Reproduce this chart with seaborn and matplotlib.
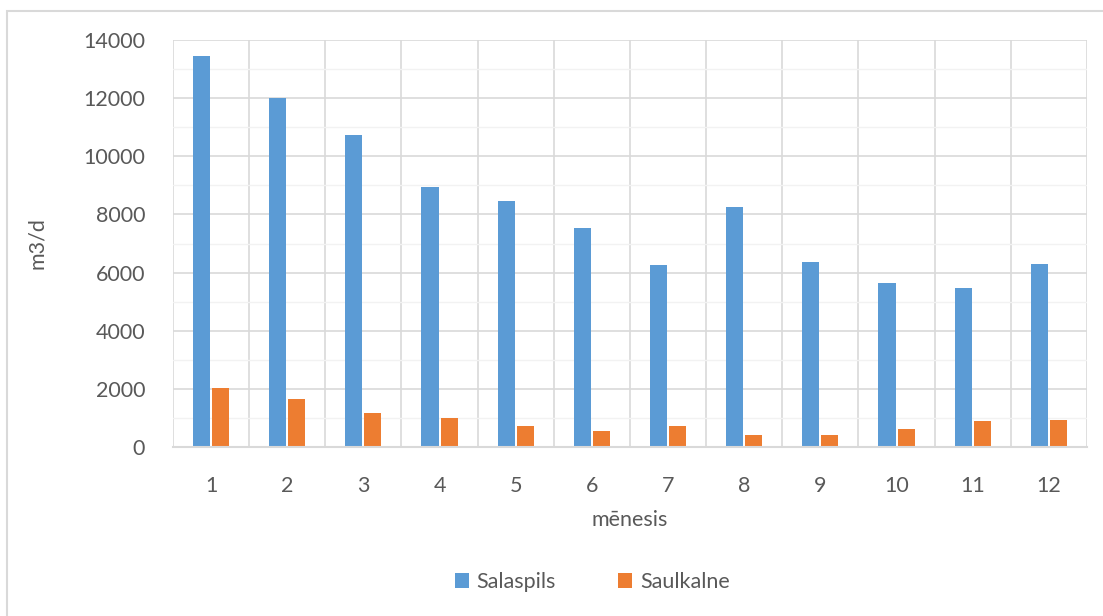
import numpy as np
import pandas as pd
import matplotlib.pyplot as plt
import seaborn as sns
from matplotlib.patches import Rectangle
from matplotlib.ticker import MultipleLocator

MONTHS = [str(m) for m in range(1, 13)]
SALASPILS = [13450, 12000, 10750, 8950, 8460, 7530, 6260, 8250, 6360, 5640, 5470, 6300]
SAULKALNE = [2040, 1650, 1170, 990, 720, 550, 730, 410, 410, 630, 890, 940]
SERIES = ["Salaspils", "Saulkalne"]
COLOURS = {"Salaspils": "#5B9BD5", "Saulkalne": "#ED7D31"}

TEXT_GREY = "#595959"
GRID_GREY = "#D9D9D9"
FS = 15.5

sns.set_theme(style="white")
plt.rcParams.update({
    "font.family": ["Lato", "DejaVu Sans"],
    "font.size": FS,
    "text.color": TEXT_GREY,
    "axes.labelcolor": TEXT_GREY,
    "xtick.color": TEXT_GREY,
    "ytick.color": TEXT_GREY,
})

df = pd.DataFrame({
    "month": MONTHS * 2,
    "station": np.repeat(SERIES, len(MONTHS)),
    "value": SALASPILS + SAULKALNE,
})

fig = plt.figure(figsize=(11.03, 6.16), dpi=100)
ax = fig.add_axes([0.1568, 0.2744, 0.8287, 0.6606])

sns.barplot(data=df, x="month", y="value", hue="station", order=MONTHS,
            hue_order=SERIES, palette=COLOURS, saturation=1, width=0.5,
            gap=0.1, linewidth=0, ax=ax)

handles, labels = ax.get_legend_handles_labels()
ax.get_legend().remove()

ax.set_ylim(0, 14000)
ax.set_xlim(-0.5, len(MONTHS) - 0.5)
ax.yaxis.set_major_locator(MultipleLocator(2000))
ax.yaxis.set_minor_locator(MultipleLocator(1000))
ax.set_xticks(np.arange(-0.5, len(MONTHS)), minor=True)

ax.grid(True, axis="y", which="major", color=GRID_GREY, linewidth=1.2, zorder=0)
ax.grid(True, axis="y", which="minor", color="#F2F2F2", linewidth=1.0, zorder=0)
ax.grid(True, axis="x", which="minor", color=GRID_GREY, linewidth=1.2, zorder=0)
ax.grid(False, axis="x", which="major")
ax.set_axisbelow(True)

for side in ("top", "right", "left"):
    ax.spines[side].set_visible(False)
ax.spines["bottom"].set_color(GRID_GREY)
ax.spines["bottom"].set_linewidth(1.5)

ax.tick_params(axis="both", which="both", length=0, labelsize=FS)
ax.tick_params(axis="y", pad=20)
ax.tick_params(axis="x", pad=21)

ax.set_xlabel("mēnesis", fontsize=FS, labelpad=10)
ax.set_ylabel("m3/d", fontsize=FS, labelpad=26)

fig.legend(handles, labels, loc="center", bbox_to_anchor=(0.537, 0.055),
           ncol=2, frameon=False, fontsize=FS, handlelength=0.65,
           handleheight=0.65, handletextpad=0.35, columnspacing=2.9)

# chart-area border
fig.patches.append(Rectangle((7 / 1103, -0.05), 1.1, 1 - 11 / 616 + 0.05,
                             transform=fig.transFigure, fill=False,
                             edgecolor=GRID_GREY, linewidth=1.5))

fig.savefig("out.png", dpi=100)
